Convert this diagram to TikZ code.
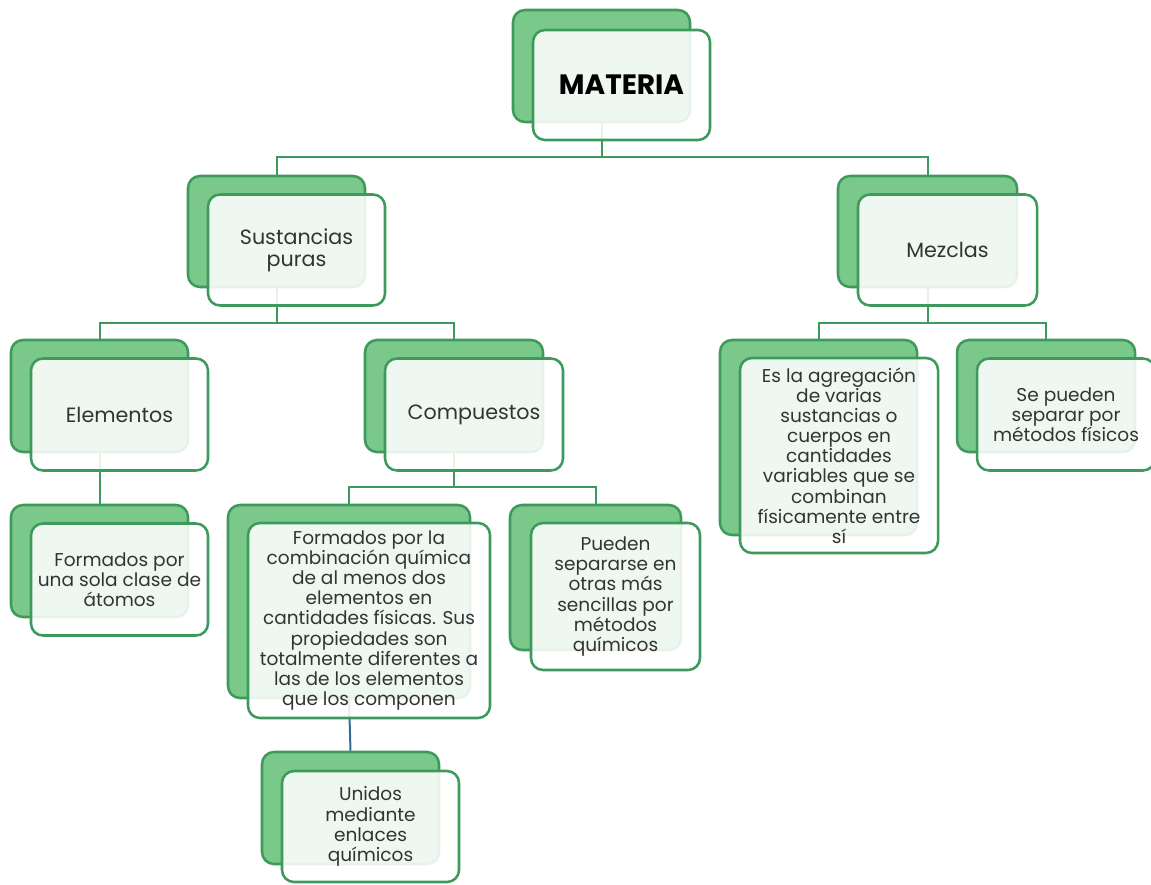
\documentclass[tikz,border=0pt]{standalone}
\usepackage{fontspec}
\setmainfont{Poppins}
\definecolor{gback}{HTML}{7BC98A}
\definecolor{gline}{HTML}{3D9A5C}
\definecolor{bline}{HTML}{2E6E8E}
\definecolor{txt}{HTML}{333333}
\tikzset{
  backbox/.style={draw=gline, fill=gback, line width=1.9pt, rounded corners=9pt, inner sep=0pt},
  frontbox/.style={draw=gline, fill=white, fill opacity=0.88, text opacity=1, line width=1.9pt, rounded corners=9pt, inner sep=0pt, text=txt, align=center},
  lbl/.style={font=\fontsize{15.5}{16.5}\selectfont},
  mlbl/.style={font=\fontsize{13.9}{15.1}\selectfont},
  conn/.style={draw=gline, line width=1.5pt},
}
\begin{document}
\begin{tikzpicture}[x=0.75pt, y=-0.75pt]
\useasboundingbox (0,0) rectangle (1151,884);
% junctions
\coordinate (j1) at (601.5,157);
\coordinate (j2) at (276.5,323);
\coordinate (j3) at (927.5,323);
\coordinate (j4) at (454,487);
% back boxes
\node[backbox, minimum width=132.75pt, minimum height=84pt] (matb) at (601.5,66) {};
\node[backbox, minimum width=132.75pt, minimum height=83.25pt] (susb) at (276.5,231.5) {};
\node[backbox, minimum width=134.25pt, minimum height=83.25pt] (mezb) at (927.5,231.5) {};
\node[backbox, minimum width=132.75pt, minimum height=84pt] (eleb) at (99.5,396) {};
\node[backbox, minimum width=133.5pt, minimum height=84pt] (comb) at (454,396) {};
\node[backbox, minimum width=147.75pt, minimum height=146.25pt] (agrb) at (818.5,437.5) {};
\node[backbox, minimum width=133.5pt, minimum height=84pt] (sepb) at (1046,396) {};
\node[backbox, minimum width=132.75pt, minimum height=84pt] (atob) at (99.5,561) {};
\node[backbox, minimum width=181.5pt, minimum height=144.75pt] (forb) at (349,601.5) {};
\node[backbox, minimum width=128.25pt, minimum height=108.75pt] (pueb) at (595.5,577.5) {};
\node[backbox, minimum width=132.75pt, minimum height=84pt] (unib) at (350.5,808) {};
% connectors
\draw[conn] (matb.south) -- (j1);
\draw[conn] (j1) -| (susb.north);
\draw[conn] (j1) -| (mezb.north);
\draw[conn] (susb.south) -- (j2);
\draw[conn] (j2) -| (eleb.north);
\draw[conn] (j2) -| (comb.north);
\draw[conn] (mezb.south) -- (j3);
\draw[conn] (j3) -| (agrb.north);
\draw[conn] (j3) -| (sepb.north);
\draw[conn] (eleb.south) -- (atob.north);
\draw[conn] (comb.south) -- (j4);
\draw[conn] (j4) -| (forb.north);
\draw[conn] (j4) -| (pueb.north);
\draw[conn, draw=bline] (forb.south) -- (unib.north);
% front boxes
\node[frontbox, minimum width=132.75pt, minimum height=82.5pt, font=\bfseries\fontsize{21}{23}\selectfont, text=black] (mat) at (621.5,85) {MATERIA};
\node[frontbox, lbl, minimum width=132.75pt, minimum height=83.25pt] (sus) at (296.5,250) {Sustancias\\puras};
\node[frontbox, lbl, minimum width=134.25pt, minimum height=83.25pt] (mez) at (947.5,250) {Mezclas};
\node[frontbox, lbl, minimum width=132.75pt, minimum height=84pt] (ele) at (119.5,414.5) {Elementos};
\node[frontbox, lbl, minimum width=133.5pt, minimum height=84pt] (com) at (474,414.5) {Compuestos};
\node[frontbox, mlbl, minimum width=148.5pt, minimum height=146.25pt] (agr) at (839,455.5) {Es la agregación\\de varias\\sustancias o\\cuerpos en\\cantidades\\variables que se\\combinan\\físicamente entre\\sí};
\node[frontbox, mlbl, minimum width=133.5pt, minimum height=84pt] (sep) at (1066,414.5) {Se pueden\\separar por\\métodos físicos};
\node[frontbox, mlbl, minimum width=132.75pt, minimum height=84pt] (ato) at (119.5,579.5) {Formados por\\una sola clase de\\átomos};
\node[frontbox, mlbl, minimum width=181.5pt, minimum height=146.25pt] (for) at (369,620.5) {Formados por la\\combinación química\\de al menos dos\\elementos en\\cantidades físicas. Sus\\propiedades son\\totalmente diferentes a\\las de los elementos\\que los componen};
\node[frontbox, mlbl, minimum width=126.75pt, minimum height=110.25pt] (pue) at (615.5,596.5) {Pueden\\separarse en\\otras más\\sencillas por\\métodos\\químicos};
\node[frontbox, mlbl, minimum width=132.75pt, minimum height=83.25pt] (uni) at (370.5,826.5) {Unidos\\mediante\\enlaces\\químicos};
\end{tikzpicture}
\end{document}
